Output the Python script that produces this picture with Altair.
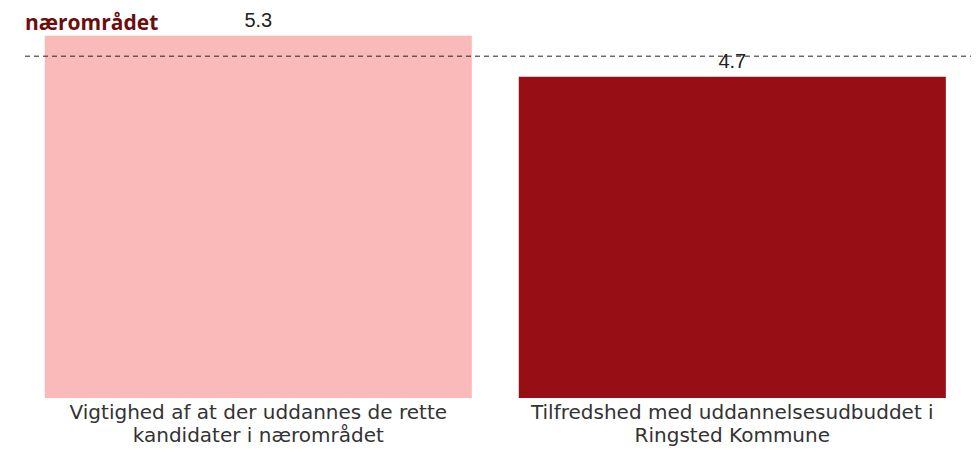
import altair as alt
import pandas as pd

# ---- data ----
categories = [
    "Vigtighed af at der uddannes de rette\nkandidater i nærområdet",
    "Tilfredshed med uddannelsesudbuddet i\nRingsted Kommune",
]
values = [5.3, 4.7]
bar_colors = ["#FBBABA", "#970E15"]
reference_value = [5.0]
title_text = ["nærområdet"]

df = pd.DataFrame({"cat": categories, "value": values})
ref = pd.DataFrame({"ref": reference_value})
ttl = pd.DataFrame({"t": title_text})

W, H = 946, 376

yscale = alt.Scale(domain=[0, 5.5], nice=False, zero=True)

x = alt.X(
    "cat:N",
    sort=None,
    scale=alt.Scale(paddingInner=0.099, paddingOuter=0.0474, align=0.44),
    axis=alt.Axis(
        title=None,
        labelAngle=0,
        domain=False,
        ticks=False,
        labelFontSize=20,
        labelFont="DejaVu Sans",
        labelColor="#333333",
        labelLineHeight=23,
        labelPadding=4,
        labelLimit=600,
        labelExpr="split(datum.label, '\\n')",
    ),
)
y = alt.Y("value:Q", scale=yscale, axis=None)

bars = alt.Chart(df).mark_bar().encode(
    x=x,
    y=y,
    color=alt.Color("cat:N", scale=alt.Scale(domain=categories, range=bar_colors), legend=None),
)

rule = alt.Chart(ref).mark_rule(strokeDash=[5, 4], color="#222222", strokeWidth=1).encode(
    y=alt.Y("ref:Q", scale=yscale, axis=None),
    x=alt.value(0),
    x2=alt.value(W),
)

labels = alt.Chart(df).mark_text(
    dy=-9, baseline="alphabetic", fontSize=20, font="Liberation Sans", color="#222222"
).encode(x=x, y=y, text=alt.Text("value:Q", format=".1f"))

title = alt.Chart(ttl).mark_text(
    align="left", baseline="alphabetic", font="Open Sans", fontWeight="bold",
    fontSize=21, color="#6B0E0E",
).encode(text="t:N", x=alt.value(0), y=alt.value(8))

chart = (
    alt.layer(bars, rule, labels, title)
    .properties(
        width=W,
        height=H,
        padding={"left": 17, "top": 14, "right": 0, "bottom": 48},
        autosize=alt.AutoSizeParams(type="none"),
    )
    .configure_view(stroke=None)
)

chart.save("out.html", embed_options={"renderer": "svg", "actions": False})
